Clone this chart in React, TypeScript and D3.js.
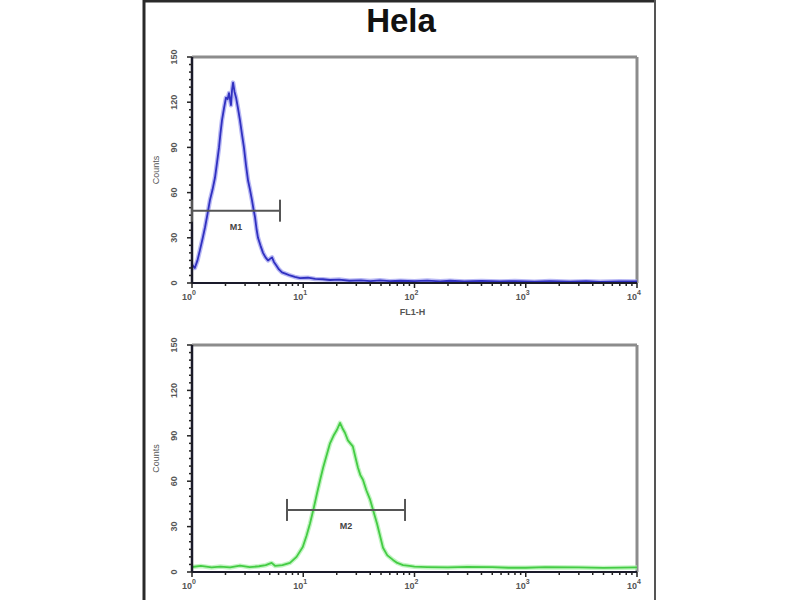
import React from "react";
import * as d3 from "d3";

const title = "Hela";
const yTickValues = [0, 30, 60, 90, 120, 150];
const xTickExponents = [0, 1, 2, 3, 4];
const xAxisLabel = "FL1-H";
const yAxisLabel = "Counts";

const topFL = [1.0, 1.06, 1.12, 1.18, 1.25, 1.31, 1.38, 1.45, 1.53, 1.61, 1.68, 1.75, 1.8, 1.86, 1.94, 2.02, 2.09, 2.15, 2.24, 2.29, 2.34, 2.41, 2.49, 2.59, 2.7, 2.81, 2.93, 3.06, 3.19, 3.32, 3.46, 3.57, 3.68, 3.8, 3.92, 4.12, 4.35, 4.58, 4.82, 5.03, 5.24, 5.45, 5.69, 6.05, 6.44, 7.0, 7.6, 8.4, 9.35, 11, 12.8, 15, 17.4, 21, 26, 33, 40, 49, 60, 75, 100, 130, 170, 209, 280, 400, 585, 800, 1200, 1650, 2500, 3500, 4660, 7000, 10000];
const topCounts = [12, 10, 15, 22, 30, 37, 46, 55, 62, 70, 80, 90, 99, 108, 116, 123, 122, 126, 118, 128, 133, 127, 123, 116, 108, 99, 90, 78, 68, 62, 55, 49, 44, 36, 30, 25, 20, 17, 15, 16, 17, 14, 12, 9, 7, 6, 5, 4, 3.3, 3.5, 2.7, 2.5, 2, 2.3, 1.5, 1.8, 1.3, 1.8, 1.2, 1.5, 1.2, 1.6, 1.1, 1.5, 1.0, 1.4, 1.0, 1.3, 0.9, 1.3, 0.9, 1.2, 0.8, 1.1, 1];

const bottomFL = [1.0, 1.2, 1.5, 1.8, 2.2, 2.7, 3.3, 4.0, 4.6, 5.2, 5.6, 6.5, 7.6, 8.7, 9.9, 10.7, 11.5, 12.4, 13.3, 14.2, 15.1, 16.2, 17.4, 18.7, 20.1, 21.4, 22.5, 23.7, 25.2, 26.5, 27.9, 29.4, 31.0, 32.6, 34.4, 36.9, 39.8, 42.8, 46.0, 49, 52.1, 57, 64.1, 70, 78.9, 90, 100, 130, 200, 300, 500, 700, 1000, 1500, 3000, 5000, 10000];
const bottomCounts = [3.3, 4, 3, 3.6, 3, 4.2, 3.2, 3.8, 4.5, 6, 4, 4.5, 6, 10, 16.5, 24, 32, 42, 52, 61, 69, 77, 85, 90, 94, 98.5, 95, 92, 87, 85, 83, 76, 69, 64, 61, 54, 48, 40, 32, 24, 16, 11, 8, 6, 4.6, 4, 3.5, 3.2, 3, 3.4, 3.2, 2.8, 2.8, 3.2, 3, 2.7, 3];

const markerLabels = ["M1", "M2"];
const markerFrom = [1, 7.14];
const markerTo = [6.18, 82.2];
const markerLevel = [48, 41];

const LEFT = 192;
const RIGHT = 637;

type PanelProps = {
  top: number;
  bottom: number;
  fl: number[];
  counts: number[];
  halo: string;
  stroke: string;
  markerIndex: number;
  showXLabel: boolean;
};

function Panel({ top, bottom, fl, counts, halo, stroke, markerIndex, showXLabel }: PanelProps) {
  const x = d3.scaleLog().domain([1, 10000]).range([LEFT, RIGHT]);
  const y = d3.scaleLinear().domain([0, 150]).range([bottom, top]);
  const pts: [number, number][] = fl.map((v, i) => [v, counts[i]]);
  const line = d3
    .line<[number, number]>()
    .x((d) => x(d[0]))
    .y((d) => y(d[1]));
  const path = line(pts) || "";

  const yMinor = d3.range(0, 151, 5);
  const xMinor: number[] = [];
  for (let e = 0; e < 4; e++) {
    for (let m = 2; m <= 9; m++) xMinor.push(m * Math.pow(10, e));
  }

  const mFrom = x(markerFrom[markerIndex]);
  const mTo = x(markerTo[markerIndex]);
  const mY = y(markerLevel[markerIndex]);
  const tickFont = "Arial, 'Liberation Sans', sans-serif";

  return (
    <g>
      <line x1={LEFT} x2={RIGHT} y1={top} y2={top} stroke="#8c8c8c" strokeWidth={3} />
      <line x1={RIGHT} x2={RIGHT} y1={top} y2={bottom} stroke="#8c8c8c" strokeWidth={3} />
      <path d={path} fill="none" stroke={halo} strokeWidth={4.5} strokeLinejoin="round" opacity={0.7} />
      <path d={path} fill="none" stroke={stroke} strokeWidth={1.8} strokeLinejoin="round" />
      <line x1={LEFT} x2={LEFT} y1={top} y2={bottom} stroke="#1a1a2a" strokeWidth={2.5} />
      {yMinor.map((v) => (
        <line key={"ym" + v} x1={LEFT - (v % 30 === 0 ? 5 : 3)} x2={LEFT} y1={y(v)} y2={y(v)} stroke="#222" strokeWidth={1.5} />
      ))}
      {yTickValues.map((v) => (
        <text
          key={"yl" + v}
          transform={`translate(${LEFT - 17},${y(v)}) rotate(-90)`}
          textAnchor="middle"
          dominantBaseline="middle"
          fontSize={9}
          fontWeight="bold"
          fill="#555"
          fontFamily={tickFont}
        >
          {v}
        </text>
      ))}
      <text
        transform={`translate(${LEFT - 35},${(top + bottom) / 2}) rotate(-90)`}
        textAnchor="middle"
        dominantBaseline="middle"
        fontSize={9}
        fill="#555"
        fontFamily={tickFont}
      >
        {yAxisLabel}
      </text>
      <line x1={LEFT} x2={RIGHT} y1={bottom} y2={bottom} stroke="#1a1a2a" strokeWidth={2} />
      {xMinor.map((v) => (
        <line key={"xm" + v} x1={x(v)} x2={x(v)} y1={bottom} y2={bottom + 3} stroke="#222" strokeWidth={1.5} />
      ))}
      {xTickExponents.map((e) => (
        <g key={"xt" + e}>
          <line x1={x(Math.pow(10, e))} x2={x(Math.pow(10, e))} y1={bottom} y2={bottom + 5} stroke="#222" strokeWidth={1.5} />
          <text
            x={x(Math.pow(10, e)) - 3}
            y={bottom + 17}
            textAnchor="middle"
            fontSize={9}
            fontWeight="bold"
            fill="#555"
            fontFamily={tickFont}
          >
            10
            <tspan dy={-5} fontSize={7}>
              {e}
            </tspan>
          </text>
        </g>
      ))}
      {showXLabel && (
        <text
          x={(LEFT + RIGHT) / 2 - 2}
          y={bottom + 32}
          textAnchor="middle"
          fontSize={9}
          fontWeight="bold"
          fill="#555"
          fontFamily={tickFont}
        >
          {xAxisLabel}
        </text>
      )}
      <line x1={mFrom} x2={mTo} y1={mY} y2={mY} stroke="#555" strokeWidth={2} />
      <line x1={mFrom} x2={mFrom} y1={mY - 11} y2={mY + 11} stroke="#555" strokeWidth={2} />
      <line x1={mTo} x2={mTo} y1={mY - 11} y2={mY + 11} stroke="#555" strokeWidth={2} />
      <text
        x={(mFrom + mTo) / 2}
        y={mY + 19}
        textAnchor="middle"
        fontSize={9}
        fontWeight="bold"
        fill="#444"
        fontFamily={tickFont}
      >
        {markerLabels[markerIndex]}
      </text>
    </g>
  );
}

export default function App() {
  return (
    <svg
      width={800}
      height={600}
      style={{ position: "absolute", left: 0, top: 0, background: "#fff" }}
    >
      <rect x={0} y={0} width={800} height={600} fill="#fff" />
      <line x1={144} x2={144} y1={0} y2={600} stroke="#2a2a2a" strokeWidth={3} />
      <line x1={144} x2={655} y1={1} y2={1} stroke="#2a2a2a" strokeWidth={3} />
      <line x1={655} x2={655} y1={0} y2={600} stroke="#555" strokeWidth={2} />
      <text
        x={401}
        y={32}
        textAnchor="middle"
        fontSize={33}
        fontWeight="bold"
        fill="#111"
        fontFamily="Arial, 'Liberation Sans', sans-serif"
      >
        {title}
      </text>
      <Panel top={57} bottom={283} fl={topFL} counts={topCounts} halo="#9a9af0" stroke="#3030c0" markerIndex={0} showXLabel={true} />
      <Panel top={345} bottom={572} fl={bottomFL} counts={bottomCounts} halo="#a8f0a8" stroke="#44cc44" markerIndex={1} showXLabel={false} />
    </svg>
  );
}
